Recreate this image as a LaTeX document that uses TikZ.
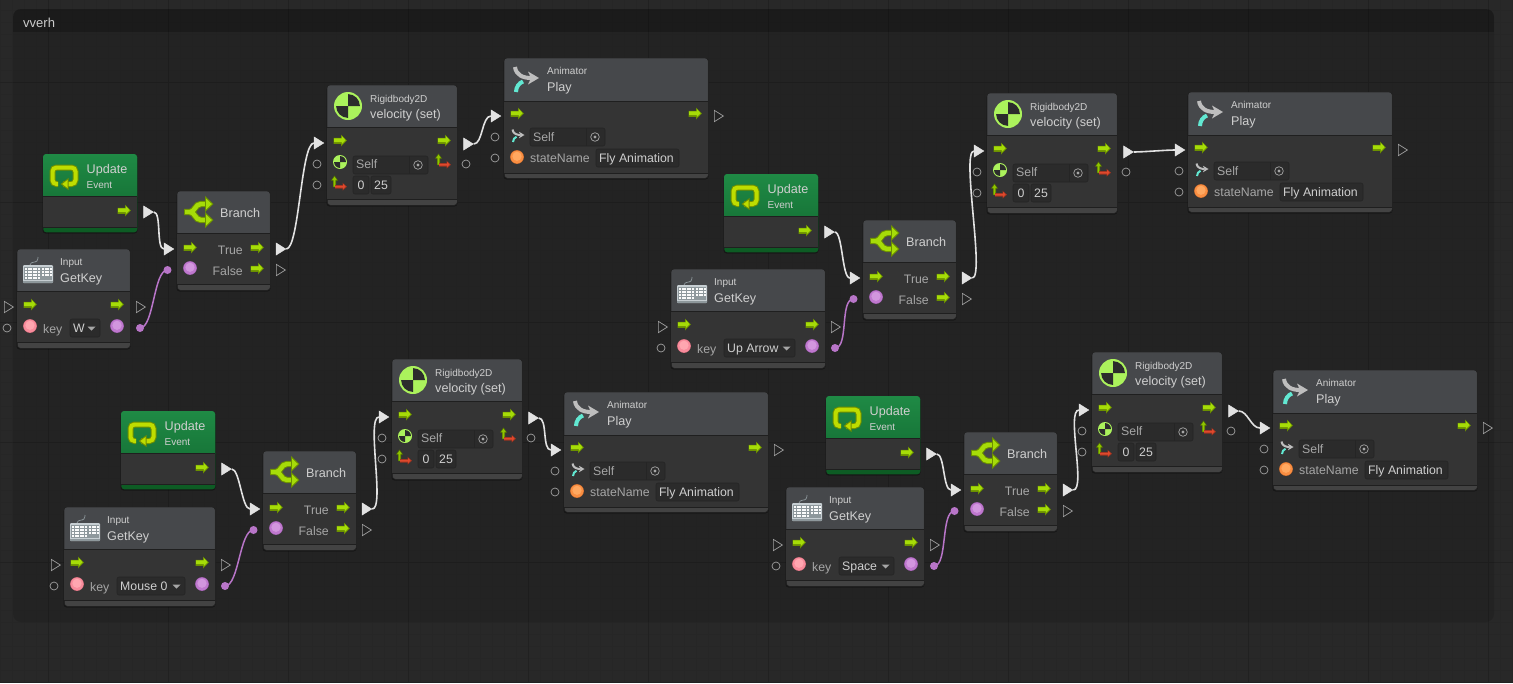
\documentclass[tikz,border=0pt]{standalone}
\usepackage{fontspec}
\setmainfont{Liberation Sans}
\usetikzlibrary{shapes.geometric}
\definecolor{canvasbg}{HTML}{282828}
\definecolor{gridminor}{HTML}{262626}
\definecolor{gridmajor}{HTML}{212121}
\definecolor{headgrey}{HTML}{46484B}
\definecolor{bodygrey}{HTML}{343434}
\definecolor{footgrey}{HTML}{434343}
\definecolor{cardedge}{HTML}{1F1F1F}
\definecolor{titletext}{HTML}{CFCFCF}
\definecolor{labeltext}{HTML}{A6A6A6}
\definecolor{fieldbg}{HTML}{2B2B2B}
\definecolor{fieldedge}{HTML}{252525}
\definecolor{flowlime}{HTML}{A6DC08}
\definecolor{flowdark}{HTML}{6C9000}
\definecolor{wirewhite}{HTML}{E2E2E2}
\definecolor{wirepurple}{HTML}{B875C8}
\definecolor{portgrey}{HTML}{A0A0A0}
\definecolor{bodylime}{HTML}{ABF25C}
\definecolor{massdark}{HTML}{2C2C2C}
\definecolor{animcyan}{HTML}{62E8D2}
\definecolor{animgrey}{HTML}{BEBEBE}
\definecolor{eventtop}{HTML}{1F8A45}
\definecolor{eventbot}{HTML}{177538}
\definecolor{eventfoot}{HTML}{0D5C24}
\definecolor{loopyellow}{HTML}{BEDD00}
\definecolor{loopdark}{HTML}{6F8F00}
\definecolor{keypale}{HTML}{C6CED2}
\definecolor{keygrey}{HTML}{8E989C}
\definecolor{vecgreen}{HTML}{8FC400}
\definecolor{vecred}{HTML}{E0492D}
\definecolor{pinkfill}{HTML}{F88C9C}
\definecolor{pinklight}{HTML}{FFA6B0}
\definecolor{pinkedge}{HTML}{D87080}
\definecolor{purplefill}{HTML}{BF78CE}
\definecolor{purplelight}{HTML}{D296DE}
\definecolor{purpleedge}{HTML}{A060B0}
\definecolor{orangefill}{HTML}{F98E42}
\definecolor{orangelight}{HTML}{FFA860}
\definecolor{orangeedge}{HTML}{D07030}
\tikzset{
  x=1pt, y=-1pt,
  cardbox/.style={draw=cardedge, line width=.6pt, rounded corners=3pt, fill=footgrey, inner sep=0pt, anchor=north west},
  maintitle/.style={font=\fontsize{12.6}{15}\selectfont, text=titletext, anchor=base west, inner sep=0pt},
  subtitle/.style={font=\fontsize{10}{12}\selectfont, text=titletext, anchor=base west, inner sep=0pt},
  rowlabel/.style={font=\fontsize{12.3}{14}\selectfont, text=labeltext, inner sep=0pt},
  fieldtext/.style={font=\fontsize{12.3}{14}\selectfont, text=titletext, inner sep=0pt},
  fieldbox/.style={fill=fieldbg, draw=fieldedge, line width=.6pt, rounded corners=2pt},
  opentip/.style={shape=isosceles triangle, isosceles triangle apex angle=64, minimum height=9pt, inner sep=0pt, draw=portgrey, line width=.7pt},
  filledtip/.style={shape=isosceles triangle, isosceles triangle apex angle=64, minimum height=9.6pt, inner sep=0pt, draw=wirewhite, fill=wirewhite, line width=.5pt},
  openring/.style={shape=circle, minimum size=8pt, inner sep=0pt, draw=portgrey, line width=.7pt},
  purpledot/.style={shape=circle, minimum size=8pt, inner sep=0pt, fill=wirepurple},
  flowline/.style={draw=wirewhite, line width=1.6pt},
  dataline/.style={draw=wirepurple, line width=1.5pt},
}
% small lime control-flow arrow
\newcommand\flowicon[2]{%
  \begin{scope}[shift={(#1,#2)}]
    \fill[flowdark] (-6.5,-2.2) -- (1,-2.2) -- (1,-5.5) -- (6.8,.5) -- (1,6.5) -- (1,3.8) -- (-6.5,3.8) -- cycle;
    \fill[flowlime] (-5.8,-1.6) -- (1.8,-1.6) -- (1.8,-4) -- (5.6,.2) -- (1.8,4) -- (1.8,2.2) -- (-5.8,2.2) -- cycle;
  \end{scope}}
% shaded value disc: x, y, fill, highlight, edge
\newcommand\valuedisc[5]{%
  \fill[#5] (#1,#2) circle[radius=6.9];
  \fill[#3] (#1,#2) circle[radius=6.3];
  \fill[#4] (#1,#2-.7) circle[radius=4.6];}
% centre-of-mass disc used by the rigid body
\newcommand\massdisc[3]{%
  \begin{scope}[shift={(#1,#2)}]
    \fill[bodylime] (0,0) circle[radius=#3];
    \fill[massdark] (0,0) -- (#3*.85,0) arc[start angle=0,end angle=-90,radius=#3*.85] -- cycle;
    \fill[massdark] (0,0) -- (-#3*.85,0) arc[start angle=180,end angle=90,radius=#3*.85] -- cycle;
  \end{scope}}
% green up arrow and red right arrow of a 2D vector
\newcommand\vectoricon[2]{%
  \begin{scope}[shift={(#1,#2)}]
    \fill[vecgreen!60!black] (-7,3) -- (-4,3) -- (-4,-3.5) -- (-2,-3.5) -- (-5.5,-8.5) -- (-9,-3.5) -- (-7,-3.5) -- cycle;
    \fill[vecgreen] (-6.3,2.5) -- (-4.7,2.5) -- (-4.7,-4) -- (-3.2,-4) -- (-5.5,-7.3) -- (-7.8,-4) -- (-6.3,-4) -- cycle;
    \fill[vecred!70!black] (-5,1.2) -- (2.5,1.2) -- (2.5,-1.3) -- (7,2.7) -- (2.5,6.7) -- (2.5,4.6) -- (-5,4.6) -- cycle;
    \fill[vecred] (-5,1.8) -- (3.2,1.8) -- (3.2,.2) -- (5.6,2.5) -- (3.2,4.8) -- (3.2,3.6) -- (-5,3.6) -- cycle;
  \end{scope}}
% animator glyph, drawn at the given scale from its top left corner
\newcommand\animatoricon[3]{%
  \begin{scope}[shift={(#1,#2)}, scale=#3]
    \draw[line width=#3*4pt, animgrey] (2,0) .. controls (3,8) and (10,11) .. (18,11);
    \fill[animgrey] (15,4.5) -- (26,11) -- (15,17.5) -- (18,11) -- cycle;
    \draw[line width=#3*4pt, animcyan] (3,25) .. controls (3,20) and (6,16) .. (10,14.5);
  \end{scope}}
% shared card frame: name, width, height, header height, footer top, header colour
\newcommand\cardframe[6]{%
  \fill[black,opacity=.35,rounded corners=3pt] (-.5,1.5) rectangle (#2+.5,#3+1.5);
  \node[cardbox, minimum width=#2 pt, minimum height=#3 pt] (#1) at (0,0) {};
  \fill[#6,rounded corners=3pt] (.3,.3) rectangle (#2-.3,#4+4);
  \fill[bodygrey] (.3,#4) rectangle (#2-.3,#5);
  \draw[cardedge,line width=.8pt] (.3,#4) -- (#2-.3,#4);
  \draw[cardedge,line width=.8pt] (.3,#5) -- (#2-.3,#5);}

\newcommand\updatecard[3]{%
  \begin{scope}[shift={(#2,#3)}]
    \fill[black,opacity=.35,rounded corners=3pt] (-.5,1.5) rectangle (94.5,79.5);
    \node[cardbox, fill=eventfoot, draw=none, minimum width=94pt, minimum height=78pt] (#1) at (0,0) {};
    \shade[top color=eventtop, bottom color=eventbot, rounded corners=3pt] (0,0) rectangle (94,46);
    \fill[bodygrey] (0,42) rectangle (94,73);
    \draw[cardedge,line width=.8pt] (0,42) -- (94,42);
    \draw[cardedge,line width=.8pt] (0,73) -- (94,73);
    \draw[line width=6pt,loopdark,rounded corners=4pt] (15,30) -- (9.5,30) -- (9.5,13.5) -- (32.5,13.5) -- (32.5,30) -- (20,30);
    \draw[line width=4pt,loopyellow,rounded corners=4pt] (15,30) -- (9.5,30) -- (9.5,13.5) -- (32.5,13.5) -- (32.5,30) -- (20,30);
    \fill[loopdark] (25.5,24) -- (25.5,36) -- (17.5,30) -- cycle;
    \fill[loopyellow] (24.5,26) -- (24.5,34) -- (19.3,30) -- cycle;
    \node[maintitle] (#1-title) at (43.5,19.5) {Update};
    \node[subtitle] (#1-sub) at (43.5,34) {Event};
    \flowicon{81}{56}
    \node[filledtip] (#1-out) at (104,58) {};
  \end{scope}}

\newcommand\branchcard[3]{%
  \begin{scope}[shift={(#2,#3)}]
    \cardframe{#1}{93}{99}{42}{93}{headgrey}
    \draw[flowdark,line width=6.4pt] (30,13) -- (24,13) .. controls (18,13) and (18,21) .. (13,21) -- (7,21);
    \draw[flowdark,line width=6.4pt] (30,29) -- (24,29) .. controls (18,29) and (18,21) .. (13,21);
    \draw[flowlime,line width=4.4pt] (30,13) -- (24,13) .. controls (18,13) and (18,21) .. (13,21) -- (8,21);
    \draw[flowlime,line width=4.4pt] (30,29) -- (24,29) .. controls (18,29) and (18,21) .. (13,21);
    \fill[flowdark] (28,5) -- (36.5,13) -- (28,21) -- cycle;
    \fill[flowdark] (28,21) -- (36.5,29) -- (28,37) -- cycle;
    \fill[flowlime] (29,7.5) -- (34.8,13) -- (29,18.5) -- cycle;
    \fill[flowlime] (29,23.5) -- (34.8,29) -- (29,34.5) -- cycle;
    \node[maintitle] (#1-title) at (43,26) {Branch};
    \flowicon{13}{56}
    \valuedisc{13}{77}{purplefill}{purplelight}{purpleedge}
    \node[rowlabel, anchor=base east] (#1-t) at (66,63) {True};
    \node[rowlabel, anchor=base east] (#1-f) at (66,84) {False};
    \flowicon{80}{56}
    \flowicon{80}{77}
    \node[filledtip] (#1-in) at (-9.5,58) {};
    \node[purpledot] (#1-cond) at (-9.5,79) {};
    \node[filledtip] (#1-true) at (102.5,58) {};
    \node[opentip] (#1-false) at (102.5,79) {};
  \end{scope}}

\newcommand\keycard[5]{%
  \begin{scope}[shift={(#2,#3)}]
    \cardframe{#1}{#4}{99}{42}{93}{headgrey}
    \draw[keygrey,line width=.7pt] (13,16) .. controls (14,12) and (18,14) .. (20,12) .. controls (22,10) and (20,9) .. (21,8);
    \fill[keypale,rounded corners=1pt] (6,16) rectangle (36,34);
    \fill[keygrey] (6,31.5) rectangle (36,34);
    \fill[keygrey] (7,17.5) rectangle (35,30.5);
    \foreach \gx in {8,10.6,...,21.5} \foreach \gy in {19,22,25,28} {\fill[white!92!keypale] (\gx,\gy) rectangle +(1.9,2.1);}
    \foreach \gx in {25,27.6,30.2,32.8} \foreach \gy in {19,22,25} {\fill[white!92!keypale] (\gx,\gy) rectangle +(1.9,2.1);}
    \node[subtitle] (#1-title) at (43,16) {Input};
    \node[maintitle] (#1-sub) at (43,33.5) {GetKey};
    \flowicon{13}{55}
    \flowicon{#4-13}{55}
    \valuedisc{13}{77}{pinkfill}{pinklight}{pinkedge}
    \valuedisc{#4-13}{77}{purplefill}{purplelight}{purpleedge}
    \node[rowlabel, anchor=base west] (#1-k) at (26,84.5) {key};
    \path[fieldbox] (53,70) rectangle (#4-30,88);
    \node[fieldtext, anchor=base west] (#1-v) at (56,83.5) {#5};
    \fill[labeltext] (#4-42.5,77.5) -- (#4-34.5,77.5) -- (#4-38.5,81.5) -- cycle;
    \node[opentip] (#1-in) at (-9.5,58) {};
    \node[openring] (#1-kp) at (-10,79) {};
    \node[opentip] (#1-next) at (#4+9.5,58) {};
    \node[purpledot] (#1-res) at (#4+10,79) {};
  \end{scope}}

\newcommand\velcard[3]{%
  \begin{scope}[shift={(#2,#3)}]
    \cardframe{#1}{130}{120}{42}{114}{headgrey}
    \massdisc{21}{21}{14}
    \node[subtitle] (#1-title) at (43,17) {Rigidbody2D};
    \node[maintitle] (#1-sub) at (43,33) {velocity (set)};
    \flowicon{13}{55}
    \flowicon{117}{55}
    \massdisc{13}{77}{7}
    \path[fieldbox] (26,71) rectangle (101,89);
    \draw[fieldedge,line width=.6pt] (82,71) -- (82,89);
    \node[fieldtext, text=labeltext, anchor=base west] (#1-self) at (29,83.5) {Self};
    \draw[labeltext,line width=.7pt] (91,80) circle[radius=4.3];
    \fill[labeltext] (91,80) circle[radius=1.7];
    \vectoricon{13}{99}
    \path[fieldbox] (26,91) rectangle (42,109);
    \path[fieldbox] (44,91) rectangle (64,109);
    \node[fieldtext] (#1-x) at (34,100) {0};
    \node[fieldtext] (#1-y) at (54,100) {25};
    \vectoricon{117}{77}
    \node[filledtip] (#1-in) at (-9.5,58) {};
    \node[openring] (#1-tp) at (-10,79) {};
    \node[openring] (#1-vp) at (-10,100) {};
    \node[filledtip] (#1-out) at (140,59) {};
    \node[openring] (#1-vo) at (139,79) {};
  \end{scope}}

\newcommand\playcard[3]{%
  \begin{scope}[shift={(#2,#3)}]
    \cardframe{#1}{204}{120}{43}{115}{headgrey}
    \animatoricon{9}{9}{1}
    \node[subtitle] (#1-title) at (43,16) {Animator};
    \node[maintitle] (#1-sub) at (43,33.5) {Play};
    \flowicon{13}{55}
    \flowicon{191}{55}
    \animatoricon{7.5}{71.5}{.5}
    \path[fieldbox] (26,70) rectangle (101,88);
    \draw[fieldedge,line width=.6pt] (82,70) -- (82,88);
    \node[fieldtext, text=labeltext, anchor=base west] (#1-self) at (29,83.5) {Self};
    \draw[labeltext,line width=.7pt] (91,79) circle[radius=4.3];
    \fill[labeltext] (91,79) circle[radius=1.7];
    \valuedisc{13}{99}{orangefill}{orangelight}{orangeedge}
    \node[rowlabel, anchor=base west] (#1-sn) at (26,104.5) {stateName};
    \path[fieldbox] (92,91) rectangle (175,109);
    \node[fieldtext, anchor=base west] (#1-fly) at (95,104.5) {Fly Animation};
    \node[filledtip] (#1-in) at (-9.5,58) {};
    \node[openring] (#1-tp) at (-9,79) {};
    \node[openring] (#1-np) at (-9,100) {};
    \node[opentip] (#1-out) at (213.5,58) {};
  \end{scope}}

% connectors between ports
\newcommand\flowlink[3][9]{\draw[flowline] (#2.east) .. controls +(#1,0) and +(-#1,0) .. (#3.west);}
\newcommand\datalink[2]{\draw[dataline] (#1.center) .. controls +(14,0) and +(-14,0) .. (#2.center);}

\begin{document}
\begin{tikzpicture}
  \useasboundingbox (0,0) rectangle (1513,683);
  \fill[canvasbg] (0,0) rectangle (1513,683);
  % background grid
  \foreach \gx in {0,12,...,1512} {\draw[gridminor,line width=.8pt] (\gx,0) -- (\gx,683);}
  \foreach \gy in {10,22,...,682} {\draw[gridminor,line width=.8pt] (0,\gy) -- (1513,\gy);}
  \foreach \gx in {48,168,...,1488} {\draw[gridmajor,line width=.9pt] (\gx,0) -- (\gx,683);}
  \foreach \gy in {82,202,...,682} {\draw[gridmajor,line width=.9pt] (0,\gy) -- (1513,\gy);}
  % enclosing group and its title bar
  \fill[black,opacity=.1,rounded corners=8pt] (13,9) rectangle (1494,622);
  \begin{scope}
    \clip[rounded corners=8pt] (13,9) rectangle (1494,622);
    \fill[black,opacity=.22] (13,9) rectangle (1494,32);
  \end{scope}
  \node[font=\fontsize{13}{15}\selectfont, text=black!20!white, anchor=base west, inner sep=0pt] (grouptitle) at (23,27) {vverh};

  \updatecard{ua}{43}{154}
  \branchcard{ba}{177}{191}
  \keycard{ka}{17}{249}{113}{W}
  \velcard{va}{327}{85}
  \playcard{pa}{504}{58}

  \updatecard{ub}{724}{174}
  \branchcard{bb}{863}{220}
  \keycard{kb}{671}{269}{154}{Up Arrow}
  \velcard{vb}{987}{93}
  \playcard{pb}{1188}{92}

  \updatecard{uc}{121}{411}
  \branchcard{bc}{263}{451}
  \keycard{kc}{64}{507}{151}{Mouse 0}
  \velcard{vc}{392}{359}
  \playcard{pc}{564}{392}

  \updatecard{ud}{826}{396}
  \branchcard{bd}{964}{432}
  \keycard{kd}{786}{487}{138}{Space}
  \velcard{vd}{1092}{352}
  \playcard{pd}{1273}{370}

  \foreach \s in {a,b,c,d} {
    \flowlink[8]{u\s-out}{b\s-in}
    \flowlink[13]{b\s-true}{v\s-in}
    \flowlink[9]{v\s-out}{p\s-in}
    \datalink{k\s-res}{b\s-cond}
  }
\end{tikzpicture}
\end{document}
